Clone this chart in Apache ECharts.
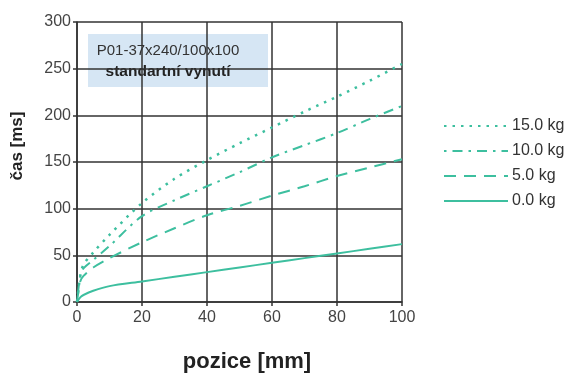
<!DOCTYPE html>
<html><head><meta charset="utf-8">
<script src="https://cdn.jsdelivr.net/npm/echarts@6/dist/echarts.min.js"></script>
<style>html,body{margin:0;padding:0;background:#fff}#c{width:568px;height:373px}</style>
</head><body><div id="c"></div>
<script>
const positions = [0, 1, 2, 5, 10, 20, 30, 40, 50, 60, 70, 80, 90, 100];
const load15 = [0, 28, 40, 53, 72, 106, 132, 152, 170, 187, 204, 220, 237, 255];
const load10 = [0, 28, 36, 45, 60, 92, 109, 124, 139, 155, 168, 181, 196, 210];
const load5  = [0, 22, 28, 37, 47, 64, 79, 93, 103, 114, 124, 135, 144, 153];
const load0  = [0, 5, 7.5, 12, 17, 22, 27, 32, 37, 42, 47, 52, 57, 62];
const seriesNames = ['15.0 kg', '10.0 kg', '5.0 kg', '0.0 kg'];
const xTicks = [0, 20, 40, 60, 80, 100];
const yTicks = [0, 50, 100, 150, 200, 250, 300];
const boxLines = ['P01-37x240/100x100', 'standartní vynutí'];
const xTitle = 'pozice [mm]';
const yTitle = 'čas [ms]';

const teal = '#3dbf9f';
const font = 'Liberation Sans, Arial, sans-serif';
const pair = ys => positions.map((x, i) => [x, ys[i]]);
const dashes = [[2.5, 6], [2.5, 6, 10, 6], [12, 8], 'solid'];
const widths = [2.5, 2, 2, 2];
const values = [load15, load10, load5, load0];

const chart = echarts.init(document.getElementById('c'));
chart.setOption({
  animation: false,
  textStyle: { fontFamily: font },
  grid: { left: 77, right: 166, top: 22, bottom: 71 },
  xAxis: {
    type: 'value', min: xTicks[0], max: xTicks[xTicks.length - 1], interval: 20,
    axisLine: { lineStyle: { color: '#333', width: 1.5 } },
    axisTick: { show: true, length: 4, lineStyle: { color: '#333', width: 1.5 } },
    axisLabel: { fontSize: 16, color: '#444', margin: 8 },
    splitLine: { show: true, lineStyle: { color: '#333', width: 1.5 } }
  },
  yAxis: {
    type: 'value', min: yTicks[0], max: yTicks[yTicks.length - 1], interval: 50,
    axisLine: { show: true, lineStyle: { color: '#333', width: 1.5 } },
    axisTick: { show: true, length: 4, lineStyle: { color: '#333', width: 1.5 } },
    axisLabel: { fontSize: 16, color: '#444', margin: 6 },
    splitLine: { show: true, lineStyle: { color: '#333', width: 1.5 } }
  },
  legend: {
    orient: 'vertical', left: 438, top: 113,
    itemWidth: 64, itemHeight: 14, itemGap: 9,
    itemStyle: { opacity: 0 },
    textStyle: { fontSize: 16, color: '#333', padding: [0, 0, 0, -1] },
    data: seriesNames
  },
  graphic: [{
    type: 'group', left: 88, top: 34, z: 10,
    children: [
      { type: 'rect', shape: { x: 0, y: 0, width: 180, height: 53 }, style: { fill: '#d6e6f4' } },
      { type: 'text', x: 80, y: 17, style: { text: boxLines[0], fontSize: 15, fill: '#333', align: 'center', verticalAlign: 'middle', fontFamily: font } },
      { type: 'text', x: 80, y: 38, style: { text: boxLines[1], fontSize: 15.5, fontWeight: 'bold', fill: '#222', align: 'center', verticalAlign: 'middle', fontFamily: font } }
    ]
  }, {
    type: 'text', x: 247, y: 362, z: 10,
    style: { text: xTitle, fontSize: 22, fontWeight: 'bold', fill: '#222', align: 'center', verticalAlign: 'middle', fontFamily: font }
  }, {
    type: 'text', x: 17, y: 146, rotation: Math.PI / 2, z: 10,
    style: { text: yTitle, fontSize: 17, fontWeight: 'bold', fill: '#222', align: 'center', verticalAlign: 'middle', fontFamily: font }
  }],
  series: seriesNames.map((n, i) => ({
    name: n, type: 'line', data: pair(values[i]),
    smooth: 0.3, symbol: 'none', z: 3,
    lineStyle: { color: teal, width: widths[i], type: dashes[i] },
    itemStyle: { color: teal }
  }))
});
</script></body></html>
